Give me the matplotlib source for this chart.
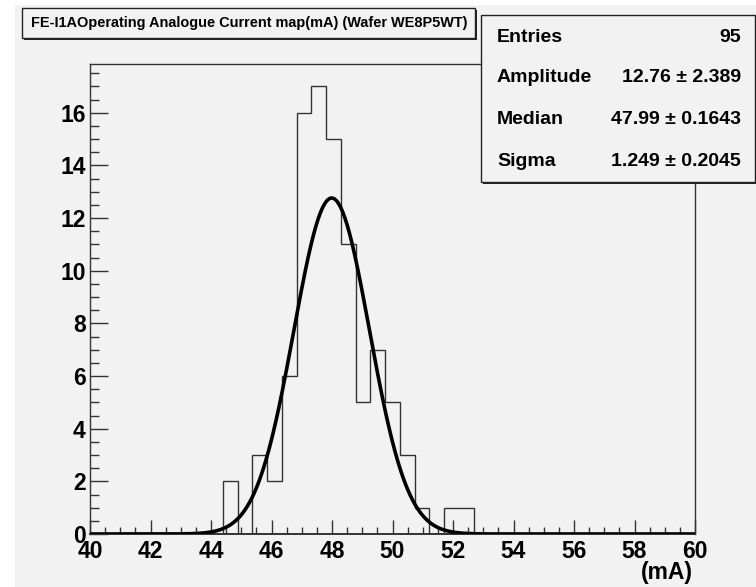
import numpy as np
import matplotlib
matplotlib.use("Agg")
import matplotlib.pyplot as plt
from matplotlib.patches import Rectangle
from matplotlib.ticker import MultipleLocator

# ---- data ----
x_min, x_max, n_bins = 40.0, 60.0, 41
counts = [0, 0, 0, 0, 0, 0, 0, 0, 0, 2, 0, 3, 2, 6, 16, 17, 15, 11, 5, 7, 5, 3, 1, 0, 1, 1,
          0, 0, 0, 0, 0, 0, 0, 0, 0, 0, 0, 0, 0, 0, 0]
fit_amp, fit_mean, fit_sigma = 12.76, 47.99, 1.249
title = "FE-I1AOperating Analogue Current map(mA) (Wafer WE8P5WT)"
stat_names = ["Entries", "Amplitude", "Median", "Sigma"]
stat_values = ["95", "12.76 \u00b1 2.389", "47.99 \u00b1 0.1643", "1.249 \u00b1 0.2045"]
x_ticks = [40, 42, 44, 46, 48, 50, 52, 54, 56, 58, 60]
y_ticks = [0, 2, 4, 6, 8, 10, 12, 14, 16]
x_unit = "(mA)"

W, H = 756, 587
plt.rcParams['font.family'] = ['Liberation Sans', 'DejaVu Sans']
plt.rcParams['font.weight'] = 'bold'
NARROW = ['Liberation Sans Narrow', 'Liberation Sans', 'DejaVu Sans']
fig = plt.figure(figsize=(W / 100, H / 100), dpi=100, facecolor='white')
BG = '#f2f2f2'

def px(x0, y0, x1, y1):
    """pixel box (top-left origin) -> figure fraction rect"""
    return (x0 / W, 1 - y1 / H, (x1 - x0) / W, (y1 - y0) / H)

# pad background
fig.patches.append(Rectangle((15 / W, 0), (W - 15) / W, (H - 5) / H, transform=fig.transFigure,
                             facecolor=BG, edgecolor='none', zorder=-10))

ax = fig.add_axes(px(90, 64, 695, 534))
ax.set_facecolor(BG)
edges = np.linspace(x_min, x_max, n_bins + 1)
ax.stairs(counts, edges, baseline=0, color='#333333', lw=1.0, zorder=2)
xf = np.linspace(x_min, x_max, 800)
ax.plot(xf, fit_amp * np.exp(-0.5 * ((xf - fit_mean) / fit_sigma) ** 2), color='black', lw=2.6,
        zorder=3)
ax.set_xlim(x_min, x_max)
ax.set_ylim(0, max(counts) * 1.05)
ax.set_xticks(x_ticks)
ax.set_yticks(y_ticks)
ax.xaxis.set_minor_locator(MultipleLocator(0.5))
ax.yaxis.set_minor_locator(MultipleLocator(0.5))
ax.tick_params(which='both', direction='in', top=False, right=False, labelsize=16.5, color='#333333')
ax.tick_params(axis='x', which='major', length=10, width=1, pad=4)
ax.tick_params(axis='x', which='minor', length=5, width=1)
ax.tick_params(axis='y', which='major', length=13, width=1, pad=3)
ax.tick_params(axis='y', which='minor', length=6.5, width=1)
for lab in ax.get_xticklabels() + ax.get_yticklabels():
    lab.set_fontweight('bold')
    lab.set_family(NARROW)
for s in ax.spines.values():
    s.set_linewidth(1.0)
    s.set_color('#333333')
ax.spines['bottom'].set_linewidth(1.4)

fig.text(693 / W, 1 - 572 / H, x_unit, ha='right', va='center', fontsize=16.5, fontweight='bold',
         family=NARROW)

# title box with shadow
r = px(24, 10, 477, 40)
fig.patches.append(Rectangle(r[:2], r[2], r[3], transform=fig.transFigure, facecolor='#222222',
                             edgecolor='none', zorder=5))
r = px(22, 8, 475, 38)
fig.patches.append(Rectangle(r[:2], r[2], r[3], transform=fig.transFigure, facecolor=BG,
                             edgecolor='#222222', lw=1.0, zorder=6))
fig.text(31 / W, 1 - 23 / H, title, ha='left', va='center', fontsize=10.45, fontweight='bold', zorder=7)

# stats box
r = px(483, 17, 757, 184)
fig.patches.append(Rectangle(r[:2], r[2], r[3], transform=fig.transFigure, facecolor='#222222',
                             edgecolor='none', zorder=5))
r = px(481, 15, 755, 182)
fig.patches.append(Rectangle(r[:2], r[2], r[3], transform=fig.transFigure, facecolor=BG,
                             edgecolor='#222222', lw=1.0, zorder=6))
row_y = [37, 78, 119, 161]
for name, val, yy in zip(stat_names, stat_values, row_y):
    fig.text(497 / W, 1 - yy / H, name, ha='left', va='center', fontsize=14, fontweight='bold', zorder=7)
    fig.text(741 / W, 1 - yy / H, val, ha='right', va='center', fontsize=14, fontweight='bold', zorder=7)

fig.savefig('out.png', dpi=100, facecolor='white')
